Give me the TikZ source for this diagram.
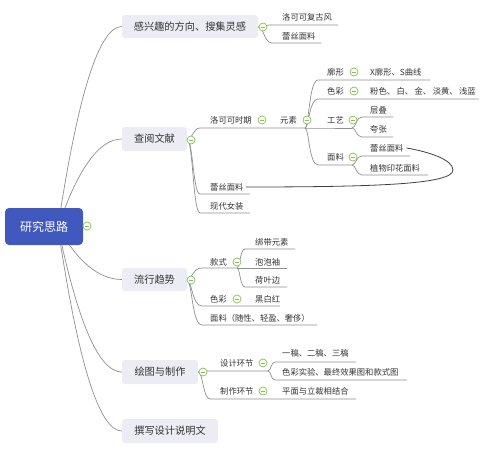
\documentclass[tikz,border=0pt]{standalone}
\usepackage{fontspec}
\setmainfont{Noto Sans CJK SC}
\usetikzlibrary{backgrounds}
\definecolor{linegray}{HTML}{8F8F8F}
\definecolor{boxfill}{HTML}{EBECF4}
\definecolor{rootblue}{HTML}{4159BE}
\definecolor{btngreen}{HTML}{84C14A}
\definecolor{txt}{HTML}{333333}
\tikzset{
 conn/.style={draw=linegray, line width=0.7pt},
 mainbox/.style={fill=boxfill, rounded corners=3pt, text=txt, font=\fontsize{10.2}{12}\selectfont, inner sep=0pt},
 rootbox/.style={fill=rootblue, rounded corners=4pt, text=white, font=\fontsize{12}{14}\selectfont, inner sep=0pt, minimum width=78pt, minimum height=37pt},
 sub/.style={anchor=west, inner sep=0pt, text=txt, font=\fontsize{8.3}{10}\selectfont},
 btn/.style={circle, draw=btngreen, fill=white, line width=0.7pt, minimum size=8pt, inner sep=0pt,
   path picture={\draw[btngreen, line width=0.8pt] ([xshift=-2.2pt]path picture bounding box.center) -- ([xshift=2.2pt]path picture bounding box.center);}},
 rel/.style={draw=black!75, line width=0.8pt}
}
\begin{document}
\begin{tikzpicture}[x=1pt,y=-1pt]
\useasboundingbox (0,0) rectangle (499,464);
% root and main boxes
\node[rootbox] (root) at (44,226.5) {研究思路};
\coordinate (rs) at (58,227);
\node[mainbox, minimum width=136pt, minimum height=23pt] (b1) at (190,26.5) {感兴趣的方向、搜集灵感};
\node[mainbox, minimum width=65pt, minimum height=24pt] (b2) at (154.5,139) {查阅文献};
\node[mainbox, minimum width=65pt, minimum height=23pt] (b3) at (154.5,279.5) {流行趋势};
\node[mainbox, minimum width=76pt, minimum height=24pt] (b4) at (160,372) {绘图与制作};
\node[mainbox, minimum width=96pt, minimum height=24pt] (b5) at (170,431) {撰写设计说明文};
\coordinate (b1r) at (258,27);
\coordinate (b2r) at (187,139);
\coordinate (b3r) at (187,280);
\coordinate (b4r) at (198,372);

% branch 1 texts
\node[sub] (t11) at (282,17) {洛可可复古风};
\node[sub] (t12) at (282,36) {蕾丝面料};
\coordinate (u11a) at (272,25); \coordinate (u11b) at (338,25);
\coordinate (u12a) at (272,43); \coordinate (u12b) at (321,43);

% branch 2 texts
\node[sub] (t21) at (210,120) {洛可可时期};
\node[sub] (t211) at (280,120) {元素};
\node[sub] (t22) at (210,187) {蕾丝面料};
\node[sub] (t23) at (210,206) {现代女装};
\coordinate (u21a) at (200,128); \coordinate (e) at (305,128);
\coordinate (u22a) at (200,194); \coordinate (u22b) at (250,194);
\coordinate (u23a) at (200,213); \coordinate (u23b) at (250,213);

\node[sub] (ka) at (327,72) {廓形};
\node[sub] (kaa) at (370,72) {X廓形、S曲线};
\coordinate (uka) at (318,80); \coordinate (ukb) at (430,80);
\node[sub] (se) at (327,91) {色彩};
\node[sub] (sea) at (370,91) {粉色、\hspace{1.5pt}白、\hspace{1.5pt}金、\hspace{1.5pt}淡黄、\hspace{1.5pt}浅蓝};
\coordinate (usa) at (318,99); \coordinate (usb) at (479,99);
\node[sub] (gy) at (327,120) {工艺};
\coordinate (ugy) at (318,128); \coordinate (gyb) at (352,128);
\node[sub] (gya) at (370,110) {层叠};
\node[sub] (gyb2) at (370,129) {夸张};
\coordinate (ug1a) at (362,117); \coordinate (ug1b) at (393,117);
\coordinate (ug2a) at (362,137); \coordinate (ug2b) at (393,137);
\node[sub] (ml) at (327,157) {面料};
\coordinate (uml) at (318,165); \coordinate (mlb) at (352,165);
\node[sub] (mla) at (370,148) {蕾丝面料};
\node[sub] (mlb2) at (370,168) {植物印花面料};
\coordinate (um1a) at (362,156); \coordinate (um1b) at (410,156);
\coordinate (um2a) at (362,175); \coordinate (um2b) at (428,175);

% branch 3 texts
\node[sub] (t31) at (210,262) {款式};
\node[sub] (t311) at (255,242) {绑带元素};
\node[sub] (t312) at (255,262) {泡泡袖};
\node[sub] (t313) at (255,280) {荷叶边};
\node[sub] (t32) at (210,299) {色彩};
\node[sub] (t321) at (255,299) {黑白红};
\node[sub] (t33) at (210,318) {面料（随性、轻盈、奢侈）};
\coordinate (u31a) at (202,268); \coordinate (kb) at (237,268);
\coordinate (u311a) at (245,249); \coordinate (u311b) at (295,249);
\coordinate (u312b) at (287,268);
\coordinate (u313a) at (245,287); \coordinate (u313b) at (287,287);
\coordinate (u32a) at (202,306); \coordinate (u32b) at (280,306);
\coordinate (u33a) at (202,325); \coordinate (u33b) at (317,325);

% branch 4 texts
\node[sub] (t41) at (220,363) {设计环节};
\node[sub] (t411) at (282,353) {一稿、二稿、三稿};
\node[sub] (t412) at (282,372) {色彩实验、最终效果图和款式图};
\node[sub] (t42) at (220,391) {制作环节};
\node[sub] (t421) at (282,391) {平面与立裁相结合};
\coordinate (u41a) at (210,371); \coordinate (sj) at (268,371);
\coordinate (u411a) at (275,362); \coordinate (u411b) at (356,362);
\coordinate (u412a) at (275,380); \coordinate (u412b) at (407,380);
\coordinate (u42a) at (210,399); \coordinate (u42b) at (356,399);

\begin{pgfonlayer}{background}
% root connectors
\draw[conn] (rs) .. controls (78,93.7) and (99.3,26.5) .. (b1.west);
\draw[conn] (rs) .. controls (78,168.3) and (99.3,139) .. (b2.west);
\draw[conn] (rs) .. controls (78,262.3) and (99.3,279.5) .. (b3.west);
\draw[conn] (rs) .. controls (78,323.7) and (99.3,372) .. (b4.west);
\draw[conn] (rs) .. controls (78,363) and (99.3,431) .. (b5.west);
% branch 1
\draw[conn] (b1r) .. controls (264,27) and (264,25) .. (u11a) -- (u11b);
\draw[conn] (b1r) .. controls (264,27) and (264,43) .. (u12a) -- (u12b);
% branch 2
\draw[conn] (b2r) .. controls (193,139) and (193,128) .. (u21a) -- (e);
\draw[conn] (b2r) .. controls (193,139) and (193,194) .. (u22a) -- (u22b);
\draw[conn] (b2r) .. controls (193,139) and (193,213) .. (u23a) -- (u23b);
\draw[conn] (e) .. controls (309,128) and (309,80) .. (uka) -- (ukb);
\draw[conn] (e) .. controls (309,128) and (309,99) .. (usa) -- (usb);
\draw[conn] (e) -- (ugy) -- (gyb);
\draw[conn] (e) .. controls (309,128) and (309,165) .. (uml) -- (mlb);
\draw[conn] (gyb) .. controls (356,128) and (356,117) .. (ug1a) -- (ug1b);
\draw[conn] (gyb) .. controls (356,128) and (356,137) .. (ug2a) -- (ug2b);
\draw[conn] (mlb) .. controls (356,165) and (356,156) .. (um1a) -- (um1b);
\draw[conn] (mlb) .. controls (356,165) and (356,175) .. (um2a) -- (um2b);
% branch 3
\draw[conn] (b3r) .. controls (192,280) and (192,268) .. (u31a) -- (kb);
\draw[conn] (b3r) .. controls (192,280) and (192,306) .. (u32a) -- (u32b);
\draw[conn] (b3r) .. controls (192,280) and (192,325) .. (u33a) -- (u33b);
\draw[conn] (kb) .. controls (240,268) and (240,249) .. (u311a) -- (u311b);
\draw[conn] (kb) -- (u312b);
\draw[conn] (kb) .. controls (240,268) and (240,287) .. (u313a) -- (u313b);
% branch 4
\draw[conn] (b4r) .. controls (203,372) and (203,371) .. (u41a) -- (sj);
\draw[conn] (b4r) .. controls (203,372) and (203,399) .. (u42a) -- (u42b);
\draw[conn] (sj) .. controls (271,371) and (271,362) .. (u411a) -- (u411b);
\draw[conn] (sj) .. controls (271,371) and (271,380) .. (u412a) -- (u412b);
\end{pgfonlayer}

% relationship
\draw[rel] ([xshift=2pt]t22.east) .. controls (380,187) and (453,184) .. (453,170) .. controls (453,160) and (430,152) .. ([xshift=3pt]mla.east);

% collapse buttons
\node[btn] (k0) at (87,226) {};
\node[btn] (k1) at (263,27) {};
\node[btn] (k2) at (191,140) {};
\node[btn] (k21) at (262,120) {};
\node[btn] (k211) at (307,120) {};
\node[btn] (kka) at (354,72) {};
\node[btn] (kse) at (354,91) {};
\node[btn] (kgy) at (353,120) {};
\node[btn] (kml) at (353,157) {};
\node[btn] (k3) at (191,280) {};
\node[btn] (k31) at (237,262) {};
\node[btn] (k32) at (237,299) {};
\node[btn] (k4) at (203,372) {};
\node[btn] (k41) at (263,363) {};
\node[btn] (k42) at (263,391) {};
\end{tikzpicture}
\end{document}
